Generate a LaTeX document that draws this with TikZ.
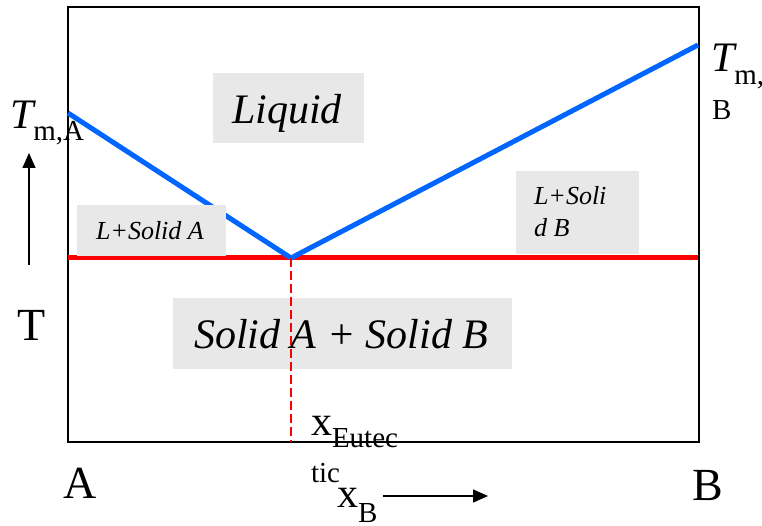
\documentclass[tikz,border=0pt]{standalone}
\usepackage{fontspec}
\setmainfont{Liberation Serif}[ItalicFont={Liberation Serif Italic},BoldFont={Liberation Serif Bold}]
\usetikzlibrary{arrows.meta}
\definecolor{liqblue}{RGB}{0,102,255}
\definecolor{boxgray}{RGB}{232,232,232}
\newcommand{\bigtxt}{\fontsize{42}{48}\selectfont}
\newcommand{\axtxt}{\fontsize{46}{52}\selectfont}
\newcommand{\subtxt}{\fontsize{29}{34}\selectfont}
\newcommand{\smalltxt}{\fontsize{26}{32}\selectfont}
\begin{document}
\begin{tikzpicture}[x=1pt,y=-1pt,
every node/.style={inner sep=0pt,outer sep=0pt},
lbl/.style={anchor=base west},
phase/.style={fill=boxgray},
liq/.style={draw=liqblue,line width=5pt},
eut/.style={draw=red,line width=5pt},
pointer/.style={-{Triangle[length=15pt,width=13pt]},line width=1.5pt}]
\useasboundingbox (0,0) rectangle (762,526);
\coordinate (tl) at (68,7);
\coordinate (br) at (699,442);
\coordinate (mA) at (68,113);
\coordinate (eu) at (291,258);
\coordinate (mB) at (698,45);
\coordinate (sl) at (68,258);
\coordinate (sr) at (698,258);
\draw[line width=2pt] (tl) rectangle (br);
\draw[eut] (sl) -- (sr);
\draw[liq] (mA) -- (eu) -- (mB);
\fill[phase] (213,73) rectangle (364,143);
\fill[phase] (77,205) rectangle (226,256);
\fill[phase] (516,171) rectangle (639,254);
\fill[phase] (173,298) rectangle (512,369);
\draw[red,line width=2pt,dash pattern=on 9pt off 4pt] (eu) -- (eu |- br);
\node[lbl] (liquid) at (232,124) {\bigtxt\itshape Liquid};
\node[lbl] (lsolA) at (96,240) {\smalltxt\itshape L+Solid A};
\node[lbl] (lsolB) at (534,205) {\smalltxt\itshape L+Soli};
\node[lbl] (lsolBb) at (534,237) {\smalltxt\itshape d B};
\node[lbl] (solAB) at (194,348) {\bigtxt\itshape Solid A + Solid B};
\node[lbl] (tmA) at (10,129) {\bigtxt\itshape T\upshape\raisebox{-12pt}{\subtxt m,A}};
\node[lbl] (tmB) at (711,72) {\bigtxt\itshape T\upshape\raisebox{-13pt}{\subtxt m,}};
\node[lbl] (tmBb) at (712,120) {\subtxt B};
\node[lbl] (tlbl) at (17,340) {\axtxt T};
\node[lbl] (labA) at (63,498) {\axtxt A};
\node[lbl] (labB) at (692,500) {\axtxt B};
\node[lbl] (xeut) at (311,435) {\bigtxt x\raisebox{-12pt}{\subtxt Eutec}};
\node[lbl] (tic) at (311,482) {\subtxt tic};
\node[lbl] (xB) at (337,507) {\bigtxt x\raisebox{-15pt}{\subtxt B}};
\coordinate (tlow) at (29,265);
\coordinate (thigh) at (29,153);
\coordinate (xfrom) at (383,496);
\coordinate (xto) at (488,496);
\draw[pointer] (tlow) -- (thigh);
\draw[pointer] (xfrom) -- (xto);
\end{tikzpicture}
\end{document}
